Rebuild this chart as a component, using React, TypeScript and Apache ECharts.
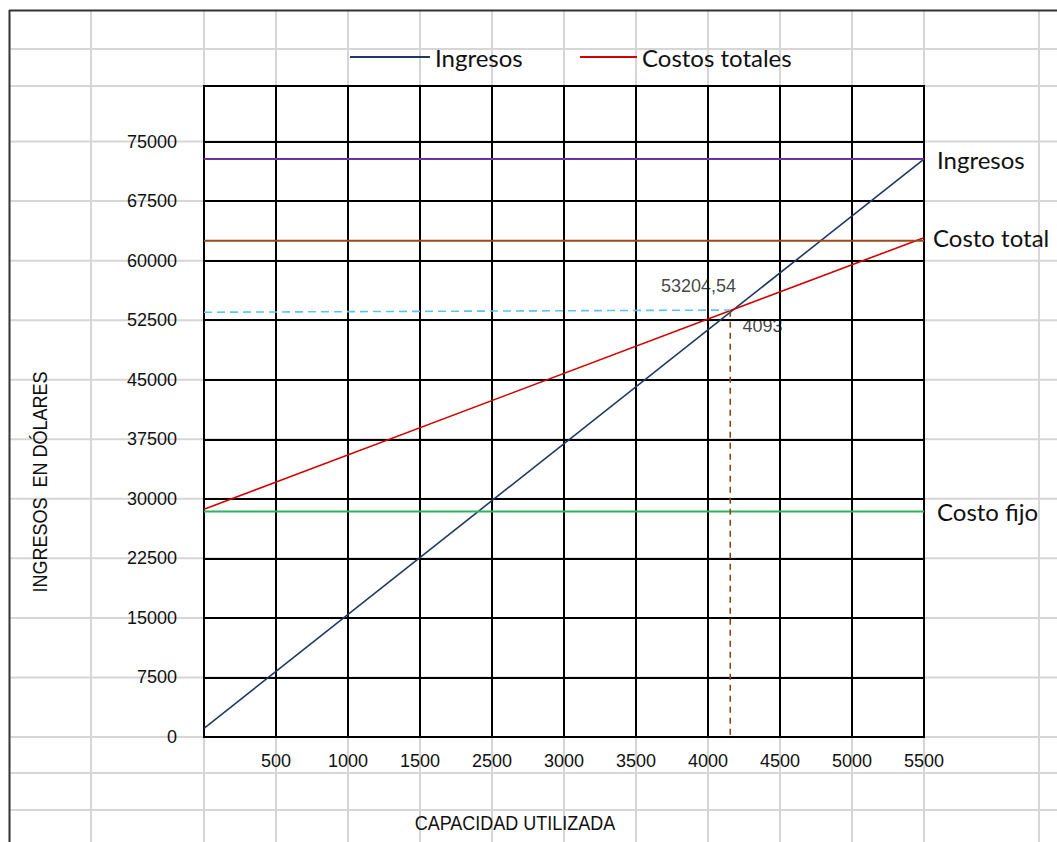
import React, { useEffect, useRef } from 'react';
import * as echarts from 'echarts';

// ---- data ----
const X_STEP = 550;
const xTickLabels = ['', '500', '1000', '1500', '2500', '3000', '3500', '4000', '4500', '5000', '5500'];
const Y_STEP = 7500;
const yTickLabels = ['0', '7500', '15000', '22500', '30000', '37500', '45000', '52500', '60000', '67500', '75000'];

const ingresos = [[0, 1100], [5500, 72800]];
const costosTotales = [[0, 28700], [5500, 62900]];
const costoFijo = [[0, 28400], [5500, 28400]];
const nivelIngresos = [[0, 72800], [5500, 72800]];
const nivelCostoTotal = [[0, 62500], [5500, 62500]];
const guiaIngresoEquilibrio = [[0, 53500], [4020, 53780]];
const guiaCantidadEquilibrio = [[4020, 53700], [4020, 0]];
const puntoEquilibrio = [4030, 53700];
const ingresoEquilibrioTexto = '53204,54';
const cantidadEquilibrioTexto = '4093';

const ARIAL = '"Liberation Sans", Arial, sans-serif';
const CALIBRI = 'Lato, "Open Sans", sans-serif';

export default function App() {
  const ref = useRef<HTMLDivElement>(null);

  useEffect(() => {
    if (!ref.current) return;
    const chart = echarts.init(ref.current, null, { renderer: 'svg' });

    const lineSeries = (name: string, data: number[][], color: string, width: number, extra: any = {}) => ({
      type: 'line',
      name,
      data,
      symbol: 'none',
      silent: true,
      lineStyle: { color, width },
      itemStyle: { color },
      z: 3,
      ...extra,
    });

    const endLabel = (text: string, distance: number) => ({
      show: true,
      formatter: text,
      distance,
      fontFamily: CALIBRI,
      fontSize: 24,
      color: '#111',
    });

    const annot = (text: string, offset: number[]) => ({
      show: true,
      position: 'inside',
      offset,
      formatter: text,
      fontFamily: ARIAL,
      fontSize: 18,
      color: '#111',
      textBorderWidth: 0,
      textBorderColor: 'transparent',
    });

    chart.setOption({
      animation: false,
      backgroundColor: '#fff',
      legend: [
        {
          data: ['Ingresos'],
          left: 345,
          top: 40,
          icon: 'rect',
          itemWidth: 80,
          itemHeight: 2,
          textStyle: { fontFamily: CALIBRI, fontSize: 24, color: '#111' },
        },
        {
          data: ['Costos totales'],
          left: 575,
          top: 40,
          icon: 'rect',
          itemWidth: 57,
          itemHeight: 2,
          textStyle: { fontFamily: CALIBRI, fontSize: 24, color: '#111' },
        },
      ],
      grid: {
        left: 204,
        top: 86,
        width: 720,
        height: 651,
        show: true,
        borderColor: '#000',
        borderWidth: 2,
        containLabel: false,
      },
      xAxis: {
        type: 'value',
        min: 0,
        max: 5500,
        interval: X_STEP,
        axisLine: { show: false },
        axisTick: { show: false },
        splitLine: { show: true, lineStyle: { color: '#000', width: 2 } },
        axisLabel: {
          margin: 15,
          fontFamily: ARIAL,
          fontSize: 18,
          color: '#111',
          formatter: (v: number) => xTickLabels[Math.round(v / X_STEP)] ?? '',
        },
      },
      yAxis: {
        type: 'value',
        min: 0,
        max: 82000,
        interval: Y_STEP,
        axisLine: { show: false },
        axisTick: { show: false },
        splitLine: { show: true, lineStyle: { color: '#000', width: 2 } },
        axisLabel: {
          margin: 27,
          fontFamily: ARIAL,
          fontSize: 18,
          color: '#111',
          formatter: (v: number) => (v % Y_STEP === 0 ? yTickLabels[v / Y_STEP] ?? '' : ''),
        },
      },
      series: [
        lineSeries('Ingresos', ingresos, '#1F3864', 1.6),
        lineSeries('Costos totales', costosTotales, '#D00000', 1.6, { endLabel: endLabel('Costo total', 9) }),
        lineSeries('Costo fijo', costoFijo, '#2EB35F', 2, { endLabel: endLabel('Costo fijo', 13) }),
        lineSeries('Nivel de ingresos', nivelIngresos, '#7030A0', 2, { endLabel: endLabel('Ingresos', 13) }),
        lineSeries('Nivel de costo total', nivelCostoTotal, '#9C4A1A', 2),
        lineSeries('Ingreso de equilibrio', guiaIngresoEquilibrio, '#5BC4F2', 1.6, {
          lineStyle: { color: '#5BC4F2', width: 1.6, type: [8, 5] },
        }),
        lineSeries('Cantidad de equilibrio', guiaCantidadEquilibrio, '#8B4513', 1.6, {
          lineStyle: { color: '#8B4513', width: 1.6, type: [6, 5] },
        }),
        {
          type: 'scatter',
          name: 'Punto de equilibrio',
          symbolSize: 0,
          silent: true,
          z: 4,
          data: [
            { value: puntoEquilibrio, label: annot(ingresoEquilibrioTexto, [-33, -25]) },
            { value: puntoEquilibrio, label: annot(cantidadEquilibrioTexto, [31, 15]) },
          ],
        },
      ],
    });

    // spreadsheet background grid (decoration), aligned with the chart's axes
    const toPx = (x: number, y: number) => chart.convertToPixel({ gridIndex: 0 }, [x, y]) as number[];
    const colXs: number[] = [91];
    for (let v = 0; v <= 5500; v += X_STEP) colXs.push(toPx(v, 0)[0]);
    colXs.push(1039);
    const rowYs: number[] = [49, toPx(0, 82000)[1]];
    for (let v = 0; v <= 75000; v += Y_STEP) rowYs.push(toPx(0, v)[1]);
    rowYs.push(773, 810);

    const grey = { stroke: '#D6D6D6', lineWidth: 2 };
    const elements: any[] = [];
    colXs.forEach((x) =>
      elements.push({ type: 'line', z: -1, silent: true, shape: { x1: x, y1: 11, x2: x, y2: 842 }, style: grey })
    );
    rowYs.forEach((y) =>
      elements.push({ type: 'line', z: -1, silent: true, shape: { x1: 10, y1: y, x2: 1057, y2: y }, style: grey })
    );
    // outer frame
    elements.push({ type: 'line', z: 1, silent: true, shape: { x1: 9, y1: 10.5, x2: 1057, y2: 10.5 }, style: { stroke: '#333', lineWidth: 2 } });
    elements.push({ type: 'line', z: 1, silent: true, shape: { x1: 9.5, y1: 10, x2: 9.5, y2: 842 }, style: { stroke: '#333', lineWidth: 2 } });
    // axis titles
    elements.push({
      type: 'text',
      x: 515,
      y: 823,
      scaleX: 0.9,
      silent: true,
      style: { text: 'CAPACIDAD UTILIZADA', font: `20px ${ARIAL}`, fill: '#111', textAlign: 'center', textVerticalAlign: 'middle' },
    });
    elements.push({
      type: 'text',
      x: 40,
      y: 482,
      rotation: Math.PI / 2,
      scaleX: 0.9,
      silent: true,
      style: { text: 'INGRESOS  EN DÓLARES', font: `20px ${ARIAL}`, fill: '#111', textAlign: 'center', textVerticalAlign: 'middle' },
    });

    chart.setOption({ graphic: { elements } });

    return () => chart.dispose();
  }, []);

  return (
    <div
      ref={ref}
      style={{ position: 'absolute', left: 0, top: 0, width: 1057, height: 842 }}
    />
  );
}
